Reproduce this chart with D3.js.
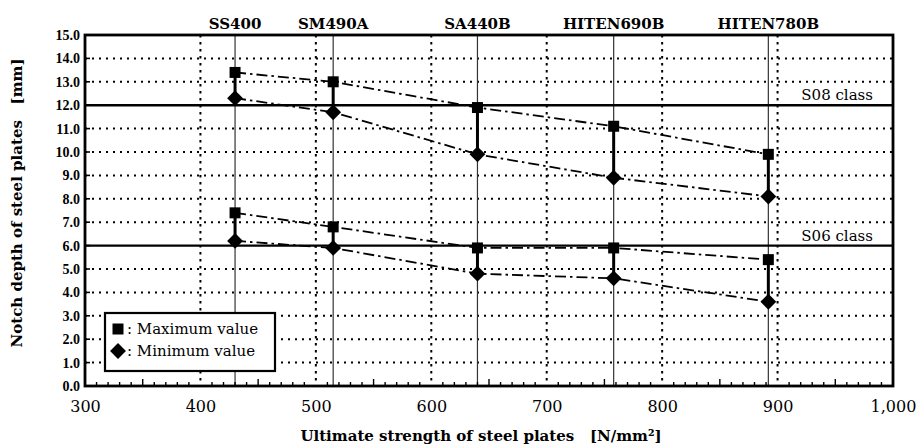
<!DOCTYPE html>
<html>
<head>
<meta charset="utf-8">
<script src="https://cdn.jsdelivr.net/npm/d3@7/dist/d3.min.js"></script>
<style>
  html, body { margin: 0; padding: 0; background: #fff; }
  svg { display: block; }
  text { white-space: pre; }
</style>
</head>
<body>
<svg id="chart" width="916" height="447"></svg>
<script>
// ---- data ----
const grades = ["SS400", "SM490A", "SA440B", "HITEN690B", "HITEN780B"];
const strength = [430, 515, 640, 758, 892];
const s08Max = [13.4, 13.0, 11.9, 11.1, 9.9];
const s08Min = [12.3, 11.7, 9.9, 8.9, 8.1];
const s06Max = [7.4, 6.8, 5.9, 5.9, 5.4];
const s06Min = [6.2, 5.9, 4.8, 4.6, 3.6];
const classLevels = [12, 6];
const classLabels = ["S08 class", "S06 class"];
const xTicks = [300, 400, 500, 600, 700, 800, 900, 1000];
const yTicks = [0, 1, 2, 3, 4, 5, 6, 7, 8, 9, 10, 11, 12, 13, 14, 15];
const legendLabels = ["Maximum value", "Minimum value"];

// ---- layout ----
const L = 85, R = 893, T = 35, B = 386;
const svg = d3.select("#chart");
const x = d3.scaleLinear().domain([300, 1000]).range([L, R]);
const y = d3.scaleLinear().domain([0, 15]).range([B, T]);
const serif = "'DejaVu Serif', serif";
const times = "'Liberation Serif', serif";

// dotted grid
const gridH = yTicks.filter(v => v > 0 && v < 15 && !classLevels.includes(v));
svg.append("g").selectAll("line").data(gridH).join("line")
  .attr("x1", L).attr("x2", R)
  .attr("y1", d => y(d)).attr("y2", d => y(d))
  .attr("stroke", "#000").attr("stroke-width", 2)
  .attr("stroke-dasharray", "2,5");
const gridV = xTicks.filter(v => v > 300 && v < 1000);
svg.append("g").selectAll("line").data(gridV).join("line")
  .attr("x1", d => x(d)).attr("x2", d => x(d))
  .attr("y1", T).attr("y2", B)
  .attr("stroke", "#000").attr("stroke-width", 2)
  .attr("stroke-dasharray", "2.5,4.5");

// thin vertical lines at each grade
svg.append("g").selectAll("line").data(strength).join("line")
  .attr("x1", d => x(d)).attr("x2", d => x(d))
  .attr("y1", T).attr("y2", B)
  .attr("stroke", "#333").attr("stroke-width", 1.2);

// class lines
svg.append("g").selectAll("line").data(classLevels).join("line")
  .attr("x1", L).attr("x2", R)
  .attr("y1", d => y(d)).attr("y2", d => y(d))
  .attr("stroke", "#000").attr("stroke-width", 2.4);
svg.append("g").selectAll("text").data(classLevels).join("text")
  .attr("x", R - 20).attr("y", d => y(d) - 5)
  .attr("text-anchor", "end")
  .attr("font-family", serif).attr("font-size", 15)
  .text((d, i) => classLabels[i]);

// thick max-min connectors
const groups = [[s08Max, s08Min], [s06Max, s06Min]];
groups.forEach(([mx, mn]) => {
  svg.append("g").selectAll("line").data(strength).join("line")
    .attr("x1", d => x(d)).attr("x2", d => x(d))
    .attr("y1", (d, i) => y(mx[i])).attr("y2", (d, i) => y(mn[i]))
    .attr("stroke", "#000").attr("stroke-width", 3);
});

// dash-dot series lines
const line = d3.line().x(d => x(d[0])).y(d => y(d[1]));
[s08Max, s08Min, s06Max, s06Min].forEach(vals => {
  svg.append("path")
    .datum(strength.map((s, i) => [s, vals[i]]))
    .attr("d", line)
    .attr("fill", "none").attr("stroke", "#000").attr("stroke-width", 1.8)
    .attr("stroke-dasharray", "11,4,2.5,4");
});

// markers
const sq = d3.symbol().type(d3.symbolSquare).size(121);
const dm = d3.symbol().type(d3.symbolDiamond2).size(160);
[s08Max, s06Max].forEach(vals => {
  svg.append("g").selectAll("path").data(strength).join("path")
    .attr("d", sq)
    .attr("transform", (d, i) => `translate(${x(d)},${y(vals[i])})`)
    .attr("fill", "#000");
});
[s08Min, s06Min].forEach(vals => {
  svg.append("g").selectAll("path").data(strength).join("path")
    .attr("d", dm)
    .attr("transform", (d, i) => `translate(${x(d)},${y(vals[i])})`)
    .attr("fill", "#000");
});

// minor ticks on bottom axis
const minor = d3.range(310, 1000, 10).filter(v => v % 100 !== 0);
svg.append("g").selectAll("line").data(minor).join("line")
  .attr("x1", d => x(d)).attr("x2", d => x(d))
  .attr("y1", B).attr("y2", d => B - (d % 50 === 0 ? 7 : 4))
  .attr("stroke", "#000").attr("stroke-width", 1.4);
// left ticks
svg.append("g").selectAll("line").data(yTicks).join("line")
  .attr("x1", L).attr("x2", L + 5)
  .attr("y1", d => y(d)).attr("y2", d => y(d))
  .attr("stroke", "#000").attr("stroke-width", 1.6);

// frame
svg.append("rect").attr("x", L).attr("y", T).attr("width", R - L).attr("height", B - T)
  .attr("fill", "none").attr("stroke", "#000").attr("stroke-width", 2.8);

// axes labels
const xAxis = d3.axisBottom(x).tickValues(xTicks).tickFormat(d3.format(",")).tickSize(0).tickPadding(15);
const gx = svg.append("g").attr("transform", `translate(0,${B})`).call(xAxis);
gx.select(".domain").remove();
gx.selectAll("text").attr("font-family", serif).attr("font-size", 16).attr("fill", "#000");

const yAxis = d3.axisLeft(y).tickValues(yTicks).tickFormat(d3.format(".1f")).tickSize(0).tickPadding(5);
const gy = svg.append("g").attr("transform", `translate(${L},0)`).call(yAxis);
gy.select(".domain").remove();
gy.selectAll("text").attr("font-family", times).attr("font-weight", "bold").attr("font-size", 14).attr("fill", "#000");

// top grade labels
svg.append("g").selectAll("text").data(grades).join("text")
  .attr("x", (d, i) => x(strength[i])).attr("y", 29)
  .attr("text-anchor", "middle")
  .attr("font-family", serif).attr("font-weight", "bold").attr("font-size", 15)
  .text(d => d);

// titles
svg.append("text").attr("x", 481).attr("y", 441).attr("text-anchor", "middle")
  .attr("font-family", serif).attr("font-weight", "bold").attr("font-size", 15)
  .text("Ultimate strength of steel plates   [N/mm²]");
svg.append("text")
  .attr("transform", "translate(22,203) rotate(-90)")
  .attr("text-anchor", "middle")
  .attr("font-family", serif).attr("font-weight", "bold").attr("font-size", 15)
  .text("Notch depth of steel plates   [mm]");

// legend
const lg = svg.append("g");
lg.append("rect").attr("x", 105).attr("y", 313).attr("width", 170).attr("height", 58)
  .attr("fill", "#fff").attr("stroke", "#000").attr("stroke-width", 2.2);
const legSym = [d3.symbol().type(d3.symbolSquare).size(121), d3.symbol().type(d3.symbolDiamond2).size(160)];
legendLabels.forEach((t, i) => {
  const cy = 329 + i * 22;
  lg.append("path").attr("d", legSym[i]).attr("transform", `translate(118,${cy})`).attr("fill", "#000");
  lg.append("text").attr("x", 127).attr("y", cy + 5)
    .attr("font-family", serif).attr("font-size", 15)
    .text(": " + t);
});
</script>
</body>
</html>
